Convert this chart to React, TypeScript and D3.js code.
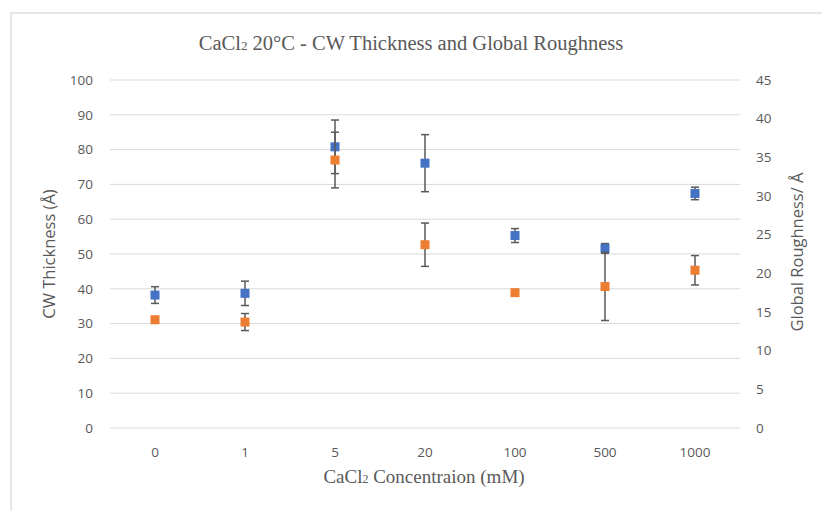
import React from "react";
import * as d3 from "d3";

const categories = ["0", "1", "5", "20", "100", "500", "1000"];
const thickness = [38.2, 38.7, 80.8, 76.1, 55.3, 51.6, 67.4];
const thicknessErr = [2.4, 3.5, 7.7, 8.2, 2.0, 1.4, 1.8];
const roughness = [14.0, 13.7, 34.65, 23.7, 17.5, 18.3, 20.4];
const roughnessErr = [0.3, 1.1, 3.6, 2.8, 0.15, 4.4, 1.9];
const leftTicks = [0, 10, 20, 30, 40, 50, 60, 70, 80, 90, 100];
const rightTicks = [0, 5, 10, 15, 20, 25, 30, 35, 40, 45];

const W = 822;
const H = 511;
const plot = { left: 110, right: 740, top: 80, bottom: 428 };
const sans = "'Open Sans', 'Liberation Sans', sans-serif";
const serif = "'Liberation Serif', 'Times New Roman', serif";

export default function App() {
  const x = d3.scaleBand().domain(categories).range([plot.left, plot.right]);
  const yL = d3.scaleLinear().domain([0, 100]).range([plot.bottom, plot.top]);
  const yR = d3.scaleLinear().domain([0, 45]).range([plot.bottom, plot.top]);
  const cx = (c: string) => (x(c) as number) + x.bandwidth() / 2;

  const errBar = (c: string, v: number, e: number, y: d3.ScaleLinear<number, number>, key: string) => {
    const X = cx(c);
    const y1 = y(v + e);
    const y2 = y(v - e);
    return (
      <g key={key} stroke="#595959" strokeWidth={1.5}>
        <line x1={X} x2={X} y1={y1} y2={y2} />
        <line x1={X - 4} x2={X + 4} y1={y1} y2={y1} />
        <line x1={X - 4} x2={X + 4} y1={y2} y2={y2} />
      </g>
    );
  };

  const marker = (c: string, v: number, y: d3.ScaleLinear<number, number>, color: string, key: string) => (
    <rect key={key} x={cx(c) - 4.5} y={y(v) - 4.5} width={9} height={9} fill={color} />
  );

  return (
    <div style={{ position: "absolute", left: 0, top: 0 }}>
      <svg width={W} height={H} style={{ display: "block", background: "#fff" }}>
        <rect x={11} y={13} width={W} height={H} fill="#fff" stroke="#d9d9d9" strokeWidth={1.3} />
        <text x={411} y={50} textAnchor="middle" fontFamily={serif} fontSize={20.5} fill="#595959">
          CaCl<tspan fontSize={13}>2</tspan> 20°C - CW Thickness and Global Roughness
        </text>
        {leftTicks.map((t) => (
          <line key={"g" + t} x1={plot.left} x2={plot.right} y1={yL(t)} y2={yL(t)} stroke="#d9d9d9" strokeWidth={1} />
        ))}
        {leftTicks.map((t) => (
          <text key={"l" + t} x={93} y={yL(t)} dy="0.35em" textAnchor="end" fontFamily={sans} fontSize={13.5} fill="#595959">
            {t}
          </text>
        ))}
        {rightTicks.map((t) => (
          <text key={"r" + t} x={756} y={yR(t)} dy="0.35em" textAnchor="start" fontFamily={sans} fontSize={13.5} fill="#595959">
            {t}
          </text>
        ))}
        {categories.map((c) => (
          <text key={"c" + c} x={cx(c)} y={457} textAnchor="middle" fontFamily={sans} fontSize={13.5} fill="#595959">
            {c}
          </text>
        ))}
        <text transform={`translate(55,254) rotate(-90)`} textAnchor="middle" fontFamily={sans} fontSize={16.5} fill="#595959">
          CW Thickness (Å)
        </text>
        <text transform={`translate(803,252) rotate(-90)`} textAnchor="middle" fontFamily={sans} fontSize={16.5} fill="#595959">
          Global Roughness/ Å
        </text>
        <text x={424} y={483} textAnchor="middle" fontFamily={serif} fontSize={19} fill="#595959">
          CaCl<tspan fontSize={12}>2</tspan> Concentraion (mM)
        </text>
        {categories.map((c, i) => errBar(c, thickness[i], thicknessErr[i], yL, "eb" + i))}
        {categories.map((c, i) => marker(c, thickness[i], yL, "#4472c4", "mb" + i))}
        {categories.map((c, i) => errBar(c, roughness[i], roughnessErr[i], yR, "eo" + i))}
        {categories.map((c, i) => marker(c, roughness[i], yR, "#ed7d31", "mo" + i))}
      </svg>
    </div>
  );
}
